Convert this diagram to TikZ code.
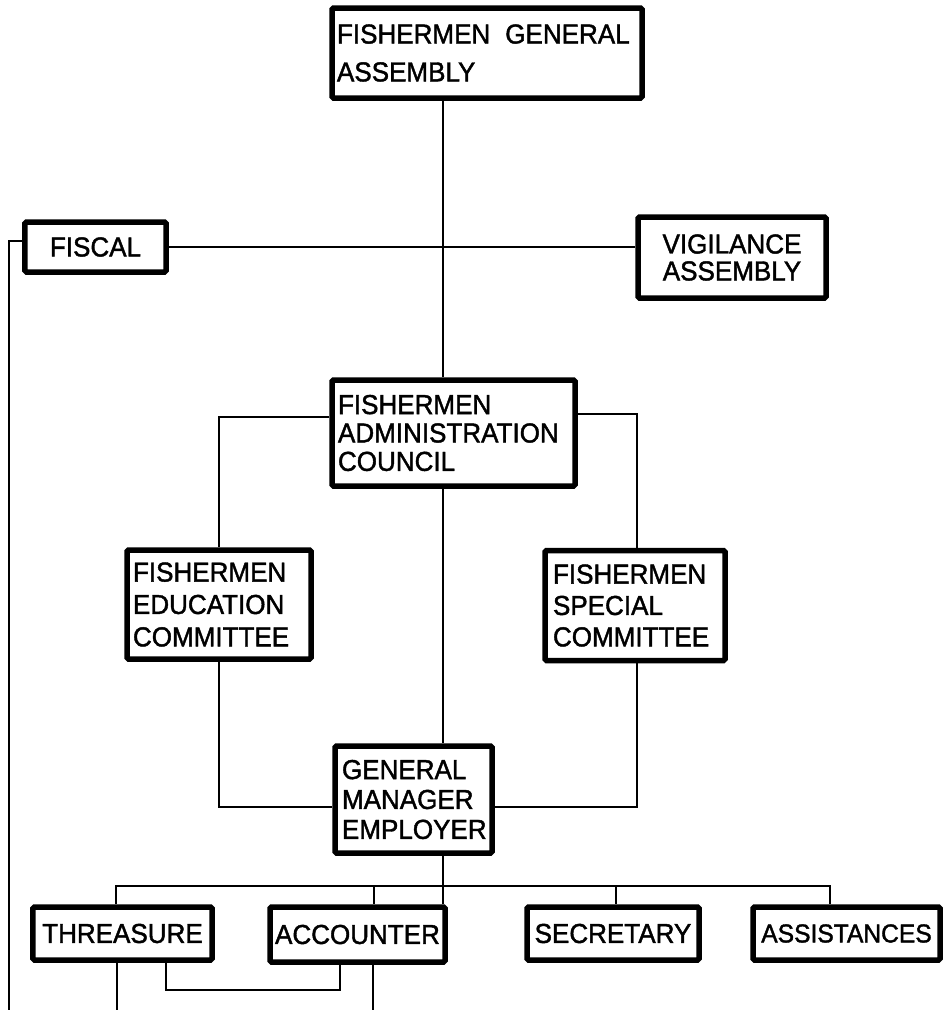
\documentclass[tikz,border=0pt]{standalone}
\usepackage{fontspec}
\setmainfont{Liberation Sans}[FakeStretch=0.95, FakeBold=1.5]
\begin{document}
\begin{tikzpicture}[x=1bp,y=-1bp]
\tikzset{
  unit/.style={draw, line width=5.5bp, rounded corners=1.5bp, inner sep=0pt,
    fill=white, font=\fontsize{27.5}{30}\selectfont},
  link/.style={line width=2bp, line join=miter},
}
\useasboundingbox (0,0) rectangle (944,1010);

% --- boxes ---------------------------------------------------------
\node[unit, minimum width=310bp, minimum height=90bp, text width=300bp,
      align=left, font=\fontsize{27.5}{38}\selectfont]
  (gen) at (487,53) {\mbox{FISHERMEN\hspace{15bp}GENERAL}\\ASSEMBLY};
\node[unit, minimum width=141bp, minimum height=50bp] (fiscal) at (95.5,247) {FISCAL};
\node[unit, minimum width=188bp, minimum height=81bp, align=center,
      font=\fontsize{27.5}{27}\selectfont]
  (vigil) at (732,257.5) {VIGILANCE\\ASSEMBLY};
\node[unit, minimum width=243bp, minimum height=106bp, text width=231bp,
      align=left, font=\fontsize{27.5}{28.5}\selectfont]
  (admin) at (453.5,433) {FISHERMEN\\ADMINISTRATION\\COUNCIL};
\node[unit, minimum width=184bp, minimum height=109bp, text width=172bp,
      align=left, font=\fontsize{27.5}{32.5}\selectfont]
  (educ) at (219,604.5) {FISHERMEN\\EDUCATION\\COMMITTEE};
\node[unit, minimum width=180bp, minimum height=110bp, text width=164bp,
      align=left, font=\fontsize{27.5}{31.5}\selectfont]
  (spec) at (635,605.5) {FISHERMEN\\SPECIAL\\COMMITTEE};
\node[unit, minimum width=157bp, minimum height=107bp, text width=143bp,
      align=left, font=\fontsize{27.5}{30}\selectfont]
  (gm) at (413.5,799.5) {GENERAL\\MANAGER\\EMPLOYER};
\node[unit, minimum width=179bp, minimum height=53bp] (thr) at (122.5,933.5) {THREASURE};
\node[unit, minimum width=175bp, minimum height=55bp] (acc) at (357.5,934.5) {ACCOUNTER};
\node[unit, minimum width=172bp, minimum height=53bp] (sec) at (613,933.5) {SECRETARY};
\node[unit, minimum width=187bp, minimum height=53bp,
      font=\fontsize{26}{28}\selectfont] (asst) at (846.5,933.5) {ASSISTANCES};

% --- reference points for the connector runs ------------------------
\coordinate (spine) at (443,0);
\coordinate (rail) at (9,241);
\coordinate (eduX) at (219,417);
\coordinate (speX) at (637,414);
\coordinate (gmY) at (0,807);
\coordinate (bus) at (0,886);
\coordinate (thrX) at (116,0);
\coordinate (accX) at (374,0);
\coordinate (secX) at (616,0);
\coordinate (asstX) at (830,0);
\coordinate (loop) at (166,990);
\coordinate (loopR) at (340,0);
\coordinate (floor) at (0,1012);
\coordinate (thrOut) at (117,0);
\coordinate (accOut) at (373,0);

% --- connectors -----------------------------------------------------
\draw[link] (gen.south -| spine) -- (admin.north -| spine);
\draw[link] (fiscal.east) -- (vigil.west |- fiscal.east);
\draw[link] (fiscal.west |- rail) -- (rail) -- (rail |- floor);
\draw[link] (admin.west |- eduX) -- (eduX) -- (educ.north -| eduX);
\draw[link] (admin.east |- speX) -- (speX) -- (spec.north -| speX);
\draw[link] (admin.south -| spine) -- (gm.north -| spine);
\draw[link] (educ.south -| eduX) -- (eduX |- gmY) -- (gm.west |- gmY);
\draw[link] (spec.south -| speX) -- (speX |- gmY) -- (gm.east |- gmY);
\draw[link] (gm.south -| spine) -- (acc.north -| spine);
\draw[link] (thr.north -| thrX) -- (thrX |- bus) -- (asstX |- bus) -- (asst.north -| asstX);
\draw[link] (accX |- bus) -- (acc.north -| accX);
\draw[link] (secX |- bus) -- (sec.north -| secX);
\draw[link] (thr.south -| thrOut) -- (thrOut |- floor);
\draw[link] (thr.south -| loop) -- (loop) -- (loopR |- loop) -- (acc.south -| loopR);
\draw[link] (acc.south -| accOut) -- (accOut |- floor);
\end{tikzpicture}
\end{document}
